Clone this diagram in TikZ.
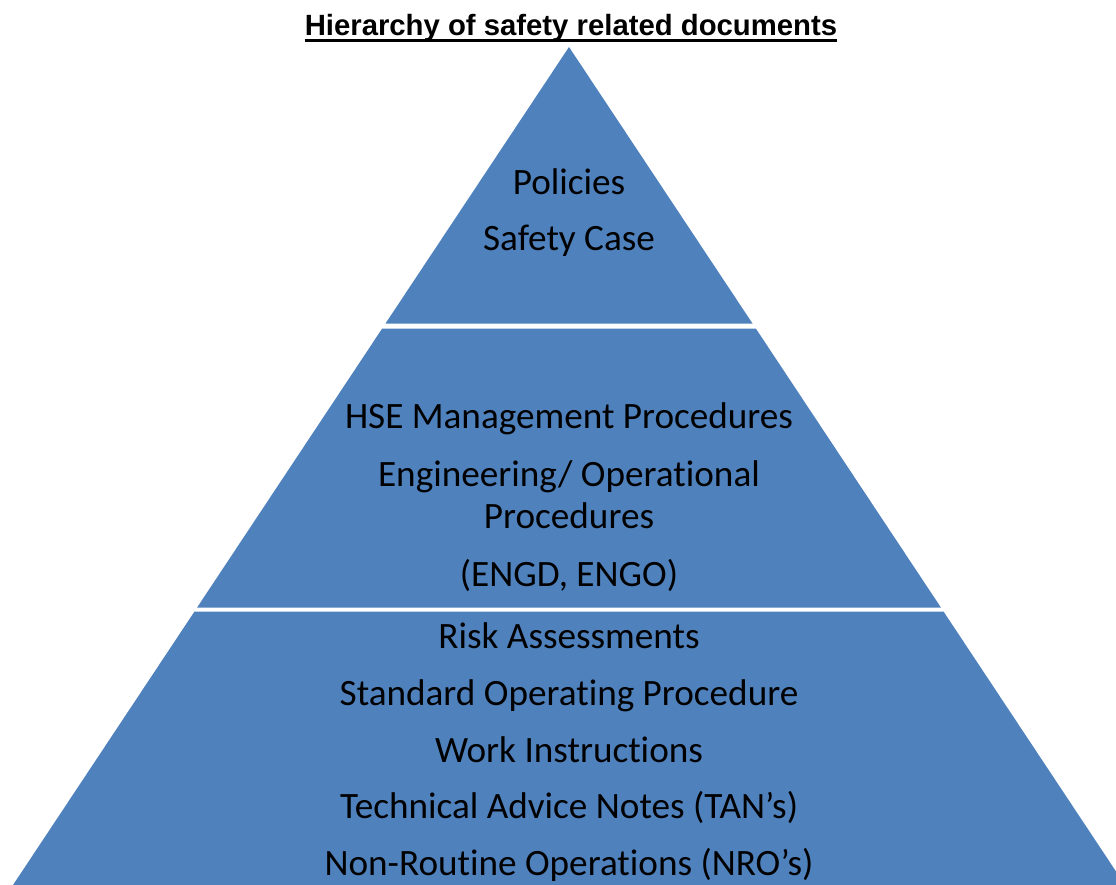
\documentclass[tikz,border=0pt]{standalone}
\usepackage{fontspec}
\setmainfont{Carlito}[RawFeature={-liga;-clig;-calt;-dlig}]
\newfontfamily\titlefont{Liberation Sans}
\usepackage{tikz}

\definecolor{tierblue}{HTML}{4F81BD}

\begin{document}
\begin{tikzpicture}[x=1pt, y=-1pt,
		tier_style/.style={fill=tierblue, draw=none},
		item_style/.style={anchor=base, inner sep=0pt, font=\fontsize{37.2}{42}\selectfont},
		title_style/.style={anchor=base, inner sep=0pt, font=\titlefont\bfseries\fontsize{29.3}{34}\selectfont}]
		
		\clip (0,0) rectangle (1116,885);
		
		% the three tiers of the pyramid
		\fill[tier_style] (569,47) -- (752.5,323.5) -- (385.5,323.5) -- cycle;
		\fill[tier_style] (382.2,328.5) -- (755.8,328.5) -- (940.9,607.5) -- (197.1,607.5) -- cycle;
		\fill[tier_style] (194.5,611.5) -- (943.5,611.5) -- (1125,885) -- (13,885) -- cycle;
		
		\node[title_style] (title) at (571,35.5) {Hierarchy of safety related documents};
		\draw[line width=3pt] ([yshift=-5pt]title.base west) -- ([yshift=-5pt]title.base east);
		
		\node[item_style] (t1) at (569,195) {Policies};
		\node[item_style] (t2) at (569,251) {Safety Case};
		
		\node[item_style] (m1) at (569,428) {HSE Management Procedures};
		\node[item_style] (m2) at (569,486) {Engineering/ Operational};
		\node[item_style] (m3) at (569,528) {Procedures};
		\node[item_style] (m4) at (569,586) {(ENGD, ENGO)};
		
		\node[item_style] (b1) at (569,648) {Risk Assessments};
		\node[item_style] (b2) at (569,705) {Standard Operating Procedure};
		\node[item_style] (b3) at (569,762) {Work Instructions};
		\node[item_style] (b4) at (569,818) {Technical Advice Notes (TAN’s)};
		\node[item_style] (b5) at (569,875) {Non-Routine Operations (NRO’s)};
		
		\end{tikzpicture}
\end{document}
